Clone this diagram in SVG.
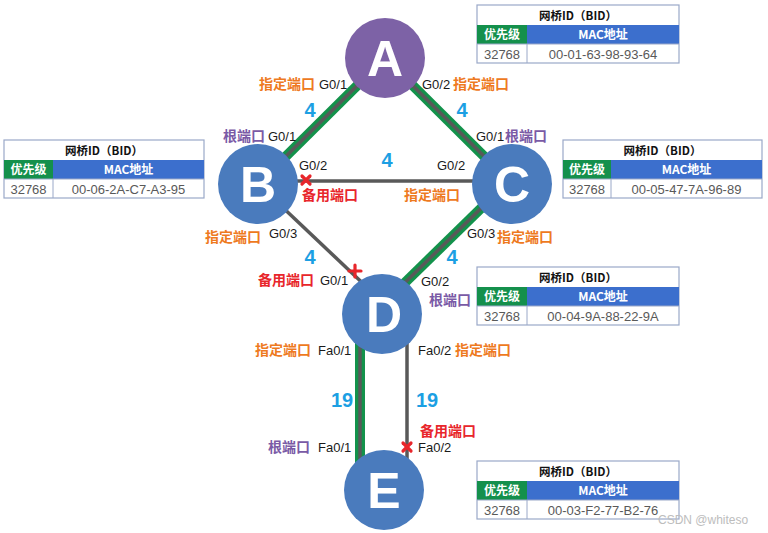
<svg xmlns="http://www.w3.org/2000/svg" width="768" height="533" viewBox="0 0 768 533">
<style>
.bg{fill:#ffffff}
.lk-g{stroke:#13924b;stroke-width:10;fill:none}
.lk-k{stroke:#595959;stroke-width:3.5;fill:none}
.node{fill:#4a7bbd}
.nodeA{fill:#7d62a6}
.nl{font-family:"Liberation Sans",Arial,sans-serif;font-weight:bold;font-size:50px;fill:#ffffff;text-anchor:middle}
.cn{font-family:"Noto Sans CJK SC","Noto Sans",sans-serif;font-weight:bold;font-size:14px}
.org{fill:#ee7a1f}
.pur{fill:#7a5aa6}
.red{fill:#e8262b}
.pt{font-family:"Liberation Sans",Arial,sans-serif;font-size:13px;fill:#1a1a1a}
.cost{font-family:"Liberation Sans",Arial,sans-serif;font-weight:bold;font-size:20px;fill:#1c9fe3;text-anchor:middle}
.x{stroke:#e8262b;stroke-width:3.2;stroke-linecap:round}
.tb-o{fill:#ffffff;stroke:#9aa8c8;stroke-width:1.2}
.tb-l{stroke:#9aa8c8;stroke-width:1}
.tb-g{fill:#14904c}
.tb-b{fill:#3c6fcd}
.tt{font-family:"Noto Sans CJK SC","Noto Sans",sans-serif;font-weight:bold;font-size:11.5px;fill:#111;text-anchor:middle}
.th{font-family:"Noto Sans CJK SC","Noto Sans",sans-serif;font-weight:bold;font-size:12px;fill:#ffffff;text-anchor:middle}
.td{font-family:"Liberation Sans",Arial,sans-serif;font-size:13px;fill:#595959;text-anchor:middle}
.wm{font-family:"Liberation Sans",Arial,sans-serif;font-size:12px;fill:#bdbdbd}
</style>
<rect class="bg" x="0" y="0" width="768" height="533"/>

<g id="connectors">
  <line class="lk-g" x1="385" y1="58" x2="258" y2="184"/>
  <line class="lk-k" x1="385" y1="58" x2="258" y2="184"/>
  <line class="lk-g" x1="385" y1="58" x2="512" y2="184"/>
  <line class="lk-k" x1="385" y1="58" x2="512" y2="184"/>
  <line class="lk-k" x1="258" y1="181" x2="512" y2="181"/>
  <line class="lk-k" x1="258" y1="184" x2="372" y2="292"/>
  <line class="lk-g" x1="512" y1="178" x2="382" y2="305"/>
  <line class="lk-k" x1="512" y1="178" x2="382" y2="305"/>
  <line class="lk-g" x1="360" y1="314" x2="360" y2="490"/>
  <line class="lk-k" x1="360" y1="314" x2="360" y2="490"/>
  <line class="lk-k" x1="407" y1="314" x2="407" y2="490"/>
</g>

<g id="node-A">
  <circle class="nodeA" cx="385" cy="58" r="40"/>
  <text class="nl" x="385" y="76">A</text>
</g>
<g id="node-B">
  <circle class="node" cx="258" cy="184" r="40"/>
  <text class="nl" x="258" y="202">B</text>
</g>
<g id="node-C">
  <circle class="node" cx="512" cy="184" r="40"/>
  <text class="nl" x="512" y="202">C</text>
</g>
<g id="node-D">
  <circle class="node" cx="382" cy="314" r="40"/>
  <text class="nl" x="384" y="332">D</text>
</g>
<g id="node-E">
  <circle class="node" cx="384" cy="490" r="40"/>
  <text class="nl" x="384" y="508">E</text>
</g>

<g id="markers">
  <line class="x" x1="302" y1="176" x2="310" y2="184"/>
  <line class="x" x1="310" y1="176" x2="302" y2="184"/>
  <line class="x" x1="349" y1="271" x2="361" y2="271"/>
  <line class="x" x1="355" y1="265" x2="355" y2="277"/>
  <line class="x" x1="403" y1="443" x2="411" y2="451"/>
  <line class="x" x1="411" y1="443" x2="403" y2="451"/>
</g>

<g id="labels">
  <text class="cn org" x="259" y="89">指定端口</text><text class="pt" x="319" y="89">G0/1</text>
  <text class="pt" x="422" y="89">G0/2</text><text class="cn org" x="453" y="89">指定端口</text>
  <text class="cost" x="310" y="117">4</text>
  <text class="cost" x="462" y="117">4</text>
  <text class="cn pur" x="223" y="141">根端口</text><text class="pt" x="268" y="141">G0/1</text>
  <text class="pt" x="476" y="141">G0/1</text><text class="cn pur" x="505" y="141">根端口</text>
  <text class="cost" x="387" y="167">4</text>
  <text class="pt" x="299" y="170">G0/2</text>
  <text class="pt" x="437" y="170">G0/2</text>
  <text class="cn red" x="302" y="200">备用端口</text>
  <text class="cn org" x="404" y="200">指定端口</text>
  <text class="cn org" x="205" y="242">指定端口</text><text class="pt" x="269" y="238">G0/3</text>
  <text class="pt" x="467" y="238">G0/3</text><text class="cn org" x="497" y="242">指定端口</text>
  <text class="cost" x="310" y="264">4</text>
  <text class="cost" x="452" y="264">4</text>
  <text class="cn red" x="258" y="285">备用端口</text><text class="pt" x="320" y="285">G0/1</text>
  <text class="pt" x="421" y="286">G0/2</text>
  <text class="cn pur" x="429" y="305">根端口</text>
  <text class="cn org" x="255" y="355">指定端口</text><text class="pt" x="318" y="355">Fa0/1</text>
  <text class="pt" x="418" y="355">Fa0/2</text><text class="cn org" x="455" y="355">指定端口</text>
  <text class="cost" x="342" y="407">19</text>
  <text class="cost" x="427" y="407">19</text>
  <text class="cn red" x="420" y="436">备用端口</text>
  <text class="cn pur" x="268" y="452">根端口</text><text class="pt" x="318" y="452">Fa0/1</text>
  <text class="pt" x="418" y="452">Fa0/2</text>
</g>

<g id="table-A" transform="translate(477,5)">
  <rect class="tb-o" x="0" y="0" width="202" height="58"/>
  <rect class="tb-g" x="0" y="20" width="50" height="19"/>
  <rect class="tb-b" x="50" y="20" width="152" height="19"/>
  <line class="tb-l" x1="50" y1="39" x2="50" y2="58"/>
  <line class="tb-l" x1="0" y1="39" x2="202" y2="39"/>
  <text class="tt" x="101" y="15">网桥ID（BID）</text>
  <text class="th" x="25" y="34">优先级</text>
  <text class="th" x="126" y="34">MAC地址</text>
  <text class="td" x="25" y="54">32768</text>
  <text class="td" x="126" y="54">00-01-63-98-93-64</text>
</g>
<g id="table-B" transform="translate(4,140)">
  <rect class="tb-o" x="0" y="0" width="200" height="58"/>
  <rect class="tb-g" x="0" y="20" width="49" height="19"/>
  <rect class="tb-b" x="49" y="20" width="151" height="19"/>
  <line class="tb-l" x1="49" y1="39" x2="49" y2="58"/>
  <line class="tb-l" x1="0" y1="39" x2="200" y2="39"/>
  <text class="tt" x="100" y="15">网桥ID（BID）</text>
  <text class="th" x="24.5" y="34">优先级</text>
  <text class="th" x="124.5" y="34">MAC地址</text>
  <text class="td" x="24.5" y="54">32768</text>
  <text class="td" x="124.5" y="54">00-06-2A-C7-A3-95</text>
</g>
<g id="table-C" transform="translate(563,140)">
  <rect class="tb-o" x="0" y="0" width="199" height="58"/>
  <rect class="tb-g" x="0" y="20" width="48" height="19"/>
  <rect class="tb-b" x="48" y="20" width="151" height="19"/>
  <line class="tb-l" x1="48" y1="39" x2="48" y2="58"/>
  <line class="tb-l" x1="0" y1="39" x2="199" y2="39"/>
  <text class="tt" x="99.5" y="15">网桥ID（BID）</text>
  <text class="th" x="24" y="34">优先级</text>
  <text class="th" x="123.5" y="34">MAC地址</text>
  <text class="td" x="24" y="54">32768</text>
  <text class="td" x="123.5" y="54">00-05-47-7A-96-89</text>
</g>
<g id="table-D" transform="translate(477,267)">
  <rect class="tb-o" x="0" y="0" width="202" height="58"/>
  <rect class="tb-g" x="0" y="20" width="50" height="19"/>
  <rect class="tb-b" x="50" y="20" width="152" height="19"/>
  <line class="tb-l" x1="50" y1="39" x2="50" y2="58"/>
  <line class="tb-l" x1="0" y1="39" x2="202" y2="39"/>
  <text class="tt" x="101" y="15">网桥ID（BID）</text>
  <text class="th" x="25" y="34">优先级</text>
  <text class="th" x="126" y="34">MAC地址</text>
  <text class="td" x="25" y="54">32768</text>
  <text class="td" x="126" y="54">00-04-9A-88-22-9A</text>
</g>
<g id="table-E" transform="translate(477,461)">
  <rect class="tb-o" x="0" y="0" width="202" height="58"/>
  <rect class="tb-g" x="0" y="20" width="50" height="19"/>
  <rect class="tb-b" x="50" y="20" width="152" height="19"/>
  <line class="tb-l" x1="50" y1="39" x2="50" y2="58"/>
  <line class="tb-l" x1="0" y1="39" x2="202" y2="39"/>
  <text class="tt" x="101" y="15">网桥ID（BID）</text>
  <text class="th" x="25" y="34">优先级</text>
  <text class="th" x="126" y="34">MAC地址</text>
  <text class="td" x="25" y="54">32768</text>
  <text class="td" x="126" y="54">00-03-F2-77-B2-76</text>
</g>

<text class="wm" x="658" y="524">CSDN @whiteso</text>
</svg>
